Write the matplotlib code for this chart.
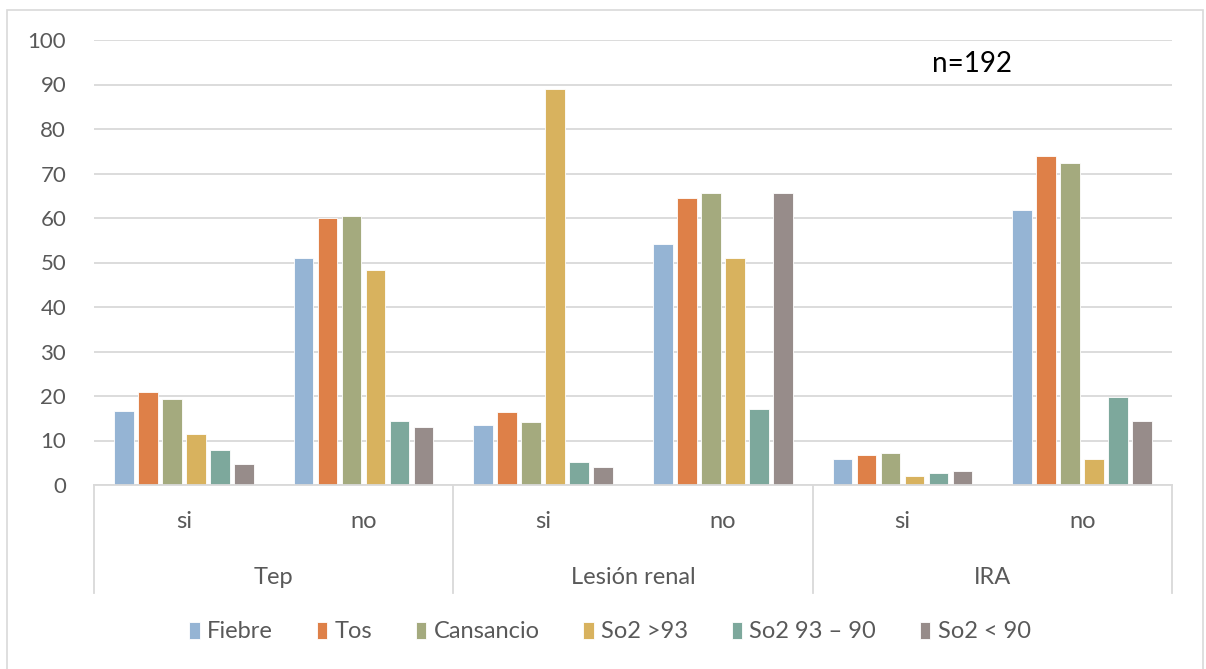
import matplotlib
matplotlib.use("Agg")
import matplotlib.pyplot as plt
from matplotlib.patches import Rectangle
from matplotlib.lines import Line2D
import numpy as np

# Data
groups = ["Tep", "Lesión renal", "IRA"]
subgroups = ["si", "no"]
series = ["Fiebre", "Tos", "Cansancio", "So2 >93", "So2 93 – 90", "So2 < 90"]
fiebre    = [16.6, 50.9, 13.4, 54.1, 5.8, 61.9]
tos       = [20.8, 59.9, 16.4, 64.6, 6.7, 74.0]
cansancio = [19.3, 60.4, 14.1, 65.6, 7.2, 72.4]
so2_hi    = [11.4, 48.4, 88.9, 50.9, 2.1, 5.8]
so2_mid   = [7.8, 14.4, 5.1, 17.1, 2.6, 19.8]
so2_lo    = [4.65, 13.1, 4.0, 65.6, 3.1, 14.4]
values = [fiebre, tos, cansancio, so2_hi, so2_mid, so2_lo]
colors = ["#95B4D4", "#DE8048", "#A4AA7E", "#D8B25E", "#7DA89C", "#978C8A"]
y_ticks = list(range(0, 101, 10))
note = "n=192"

W, H = 1206, 669
fig = plt.figure(figsize=(W / 100, H / 100), dpi=100)
plt.rcParams["font.family"] = ["Lato", "DejaVu Sans"]
FS = 17

# outer chart frame
fig.patches.append(Rectangle((7 / W, -0.05), (1203 - 7) / W, 1.05 - 10 / H,
                             transform=fig.transFigure, fill=False,
                             edgecolor="#D9D9D9", linewidth=1.2))

left, right = 94 / W, 1172 / W
bottom, top = 1 - 485 / H, 1 - 40 / H
ax = fig.add_axes([left, bottom, right - left, top - bottom])

n_cat = len(groups) * len(subgroups)
x = np.arange(n_cat)
step = 0.1336
width = 0.108
for i, (name, vals, c) in enumerate(zip(series, values, colors)):
    offs = (i - (len(series) - 1) / 2) * step
    ax.bar(x + offs, vals, width, color=c, label=name, zorder=3,
           edgecolor="white", linewidth=0.6)

ax.set_xlim(-0.5, n_cat - 0.5)
ax.set_ylim(0, 100)
ax.set_yticks(y_ticks)
ax.set_yticklabels([str(t) for t in y_ticks], fontsize=16, color="#595959")
ax.tick_params(axis="y", length=0, pad=20)
ax.set_xticks([])
for s in ax.spines.values():
    s.set_visible(False)
ax.grid(axis="y", color="#D9D9D9", linewidth=1.3, zorder=0)
ax.set_axisbelow(True)

# sample size note
ax.text(4.386, 94.6, note, fontsize=20, color="#000000", ha="center", va="center")

# multi-level category axis
axis_bottom = 485
div_bottom = 593
def fy(py):
    return 1 - py / H

fig.add_artist(Line2D([left, right], [fy(axis_bottom)] * 2, transform=fig.transFigure,
                      color="#D9D9D9", linewidth=1.3))
for k in range(len(groups) + 1):
    xx = left + (right - left) * (2 * k) / n_cat
    fig.add_artist(Line2D([xx, xx], [fy(axis_bottom), fy(div_bottom)],
                          transform=fig.transFigure, color="#D9D9D9", linewidth=1.3))

for j in range(n_cat):
    xx = left + (right - left) * (j + 0.5) / n_cat
    fig.text(xx, fy(522), subgroups[j % 2], fontsize=FS, color="#595959",
             ha="center", va="center")
for g, name in enumerate(groups):
    xx = left + (right - left) * (2 * g + 1) / n_cat
    fig.text(xx, fy(577), name, fontsize=FS, color="#595959",
             ha="center", va="center")

handles, labels = ax.get_legend_handles_labels()
leg = fig.legend(handles, labels, loc="center", bbox_to_anchor=(610 / W, fy(632)),
                 ncol=6, frameon=False, fontsize=FS, handlelength=0.45,
                 handleheight=0.7, handletextpad=0.3, columnspacing=1.85)
for t in leg.get_texts():
    t.set_color("#595959")

fig.savefig("out.png", dpi=100)
